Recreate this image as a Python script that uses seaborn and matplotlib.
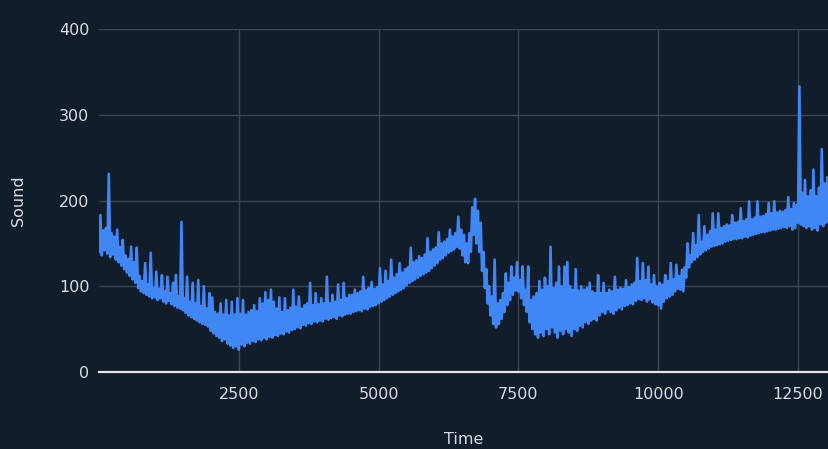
import numpy as np
import pandas as pd
import matplotlib
matplotlib.use("Agg")
import matplotlib.pyplot as plt
import seaborn as sns

# Sound level readings: troughs sampled every 50 time units from t=0,
# crests (including the sharp spikes) every 50 units from t=25.
low_start, low_step = 0, 50
sound_low = [
    140, 136, 142, 138, 134, 137, 131, 128, 124, 120,
    116, 112, 108, 104, 98, 94, 92, 90, 88, 86,
    87, 84, 86, 82, 80, 83, 79, 77, 75, 74,
    72, 69, 66, 64, 62, 60, 58, 56, 55, 53,
    48, 45, 42, 40, 36, 38, 33, 31, 28, 30,
    26, 32, 30, 34, 33, 36, 35, 38, 37, 40,
    38, 41, 40, 43, 42, 45, 44, 47, 46, 49,
    50, 52, 51, 55, 54, 57, 56, 59, 58, 60,
    59, 62, 61, 63, 64, 62, 66, 65, 67, 68,
    68, 70, 71, 72, 71, 74, 73, 76, 77, 78,
    80, 82, 84, 86, 88, 90, 92, 94, 96, 98,
    101, 104, 106, 108, 110, 112, 114, 116, 118, 121,
    124, 127, 131, 133, 136, 139, 141, 143, 146, 144,
    136, 128, 127, 140, 160, 150, 140, 118, 98, 80,
    66, 56, 52, 56, 62, 70, 78, 84, 90, 95,
    94, 86, 78, 70, 58, 50, 44, 40, 46, 42,
    50, 44, 52, 46, 40, 48, 44, 50, 46, 42,
    50, 48, 54, 52, 58, 56, 60, 62, 60, 66,
    70, 68, 73, 70, 68, 72, 75, 73, 77, 78,
    80, 79, 83, 85, 84, 86, 82, 85, 81, 79,
    78, 74, 82, 86, 88, 90, 94, 97, 96, 94,
    110, 122, 128, 131, 134, 137, 140, 142, 144, 146,
    147, 148, 149, 150, 152, 153, 154, 155, 155, 156,
    156, 158, 157, 159, 160, 161, 162, 163, 163, 164,
    165, 166, 166, 167, 168, 169, 168, 170, 166, 168,
    174, 172, 170, 168, 170, 166, 168, 165, 172, 170,
    174, 176,
]

high_start, high_step = 25, 50
sound_high = [
    183, 165, 168, 231, 162, 158, 166, 146, 154, 136,
    132, 146, 128, 145, 112, 106, 127, 102, 139, 98,
    117, 97, 113, 94, 111, 92, 104, 113, 88, 175,
    86, 111, 82, 104, 80, 107, 77, 100, 74, 92,
    87, 70, 68, 80, 67, 84, 66, 82, 67, 86,
    68, 84, 67, 70, 72, 78, 71, 86, 80, 93,
    84, 96, 82, 74, 87, 70, 86, 72, 75, 96,
    76, 88, 74, 78, 80, 104, 78, 92, 79, 86,
    80, 111, 80, 90, 82, 102, 84, 104, 86, 90,
    90, 96, 92, 94, 111, 95, 98, 105, 97, 99,
    121, 102, 118, 106, 131, 110, 114, 127, 116, 120,
    122, 145, 128, 130, 135, 133, 137, 156, 140, 143,
    145, 163, 150, 152, 155, 166, 158, 162, 181, 166,
    160, 150, 162, 192, 202, 188, 174, 140, 120, 100,
    88, 131, 80, 84, 92, 115, 104, 123, 110, 128,
    107, 123, 96, 123, 84, 88, 92, 106, 96, 110,
    100, 146, 98, 104, 123, 100, 123, 128, 100, 96,
    120, 95, 100, 96, 98, 104, 94, 92, 113, 92,
    104, 92, 96, 94, 111, 96, 98, 97, 107, 99,
    102, 104, 133, 106, 127, 107, 123, 102, 113, 100,
    104, 102, 113, 106, 127, 108, 125, 112, 119, 122,
    150, 136, 162, 148, 183, 152, 170, 160, 164, 185,
    166, 185, 168, 170, 172, 171, 183, 174, 175, 191,
    176, 178, 199, 178, 180, 199, 181, 182, 184, 197,
    185, 199, 186, 188, 187, 189, 204, 190, 197, 195,
    333, 209, 224, 205, 212, 236, 205, 215, 260, 220,
    227,
]

x_ticks = [2500, 5000, 7500, 10000, 12500]
y_ticks = [0, 100, 200, 300, 400]

BG = "#121d2c"
GRID = "#3b4552"
TEXT = "#d9dde2"
LINE = "#4086f4"

low_df = pd.DataFrame({
    "Time": low_start + low_step * np.arange(len(sound_low)),
    "Sound": sound_low,
})
high_df = pd.DataFrame({
    "Time": high_start + high_step * np.arange(len(sound_high)),
    "Sound": sound_high,
})
df = pd.concat([low_df, high_df]).sort_values("Time").reset_index(drop=True)

sns.set_theme(style="darkgrid")
plt.rcParams["font.family"] = ["DejaVu Sans"]

fig = plt.figure(figsize=(8.29, 4.49), dpi=100, facecolor=BG)
ax = fig.add_axes([99 / 829, 1 - 372 / 449, 1 - 99 / 829, 343 / 449])
ax.set_facecolor(BG)

sns.lineplot(data=df, x="Time", y="Sound", ax=ax, color=LINE,
             linewidth=1.9, estimator=None, sort=False, zorder=3)

ax.set_xlim(0, 13054)
ax.set_ylim(0, 400)
ax.set_xticks(x_ticks)
ax.set_yticks(y_ticks)
ax.grid(True, color=GRID, linewidth=1.0)
ax.tick_params(axis="both", length=0, colors=TEXT, labelsize=11.5)
ax.tick_params(axis="x", pad=11)
ax.tick_params(axis="y", pad=7)

for side in ["top", "right", "left"]:
    ax.spines[side].set_visible(False)
ax.spines["bottom"].set_visible(True)
ax.spines["bottom"].set_color("#e6e6e6")
ax.spines["bottom"].set_linewidth(1.6)
ax.spines["bottom"].set_zorder(4)

ax.set_xlabel("Time", color=TEXT, fontsize=11.5)
ax.set_ylabel("Sound", color=TEXT, fontsize=11.5)
ax.xaxis.set_label_coords(0.5, -(440 - 372) / 343)
ax.yaxis.set_label_coords(-(99 - 18) / 730, 0.5)
ax.xaxis.label.set_va("center")
ax.yaxis.label.set_va("center")

fig.savefig("out.png", dpi=100, facecolor=BG)
